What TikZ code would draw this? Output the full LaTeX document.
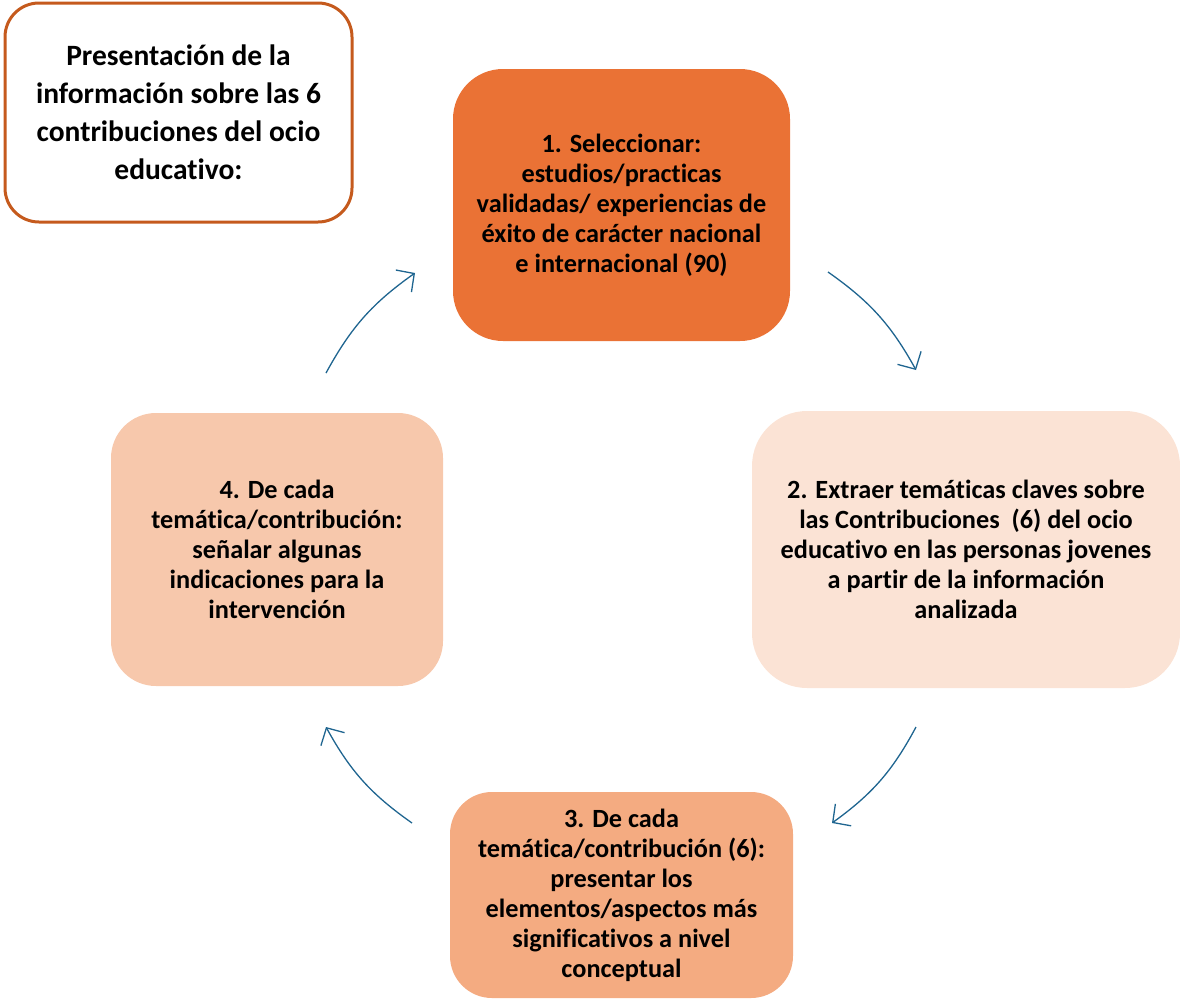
\documentclass[tikz,border=0pt]{standalone}
\usepackage{fontspec}
\setmainfont{Carlito}[Ligatures=CommonOff]
\usetikzlibrary{arrows.meta}
\definecolor{cone}{HTML}{EA7235}
\definecolor{ctwo}{HTML}{FBE3D5}
\definecolor{cthree}{HTML}{F4AB81}
\definecolor{cfour}{HTML}{F7C8AC}
\definecolor{cframe}{HTML}{C55A1D}
\definecolor{carrow}{HTML}{1F6590}
\tikzset{
  stagebox/.style={draw=none, inner sep=0pt, align=center,
    font=\fontsize{26.3}{30}\selectfont\bfseries},
  titlebox/.style={draw=cframe, line width=3pt, fill=white, inner sep=0pt, align=center,
    rounded corners=34pt, font=\fontsize{29.5}{38}\selectfont\bfseries},
  cyc/.style={draw=carrow, line width=1.3pt, bend left=13,
    -{Straight Barb[length=13pt,width=27pt,line width=1.3pt]}}
}
\begin{document}
\begin{tikzpicture}[x=1pt,y=-1pt]
\useasboundingbox (0,0) rectangle (1180,999);
\node[titlebox, minimum width=347pt, minimum height=219pt] (title) at (178.5,112.5)
  {\raisebox{5pt}{\parbox{300pt}{\centering Presentación de la\\ información sobre las 6\\ contribuciones del ocio\\ educativo:}}};
\node[stagebox, fill=cone, minimum width=337pt, minimum height=272pt, rounded corners=50pt] (s1) at (621.5,205)
  {1. Seleccionar:\\ estudios/practicas\\ validadas/ experiencias de\\ éxito de carácter nacional\\ e internacional (90)};
\node[stagebox, fill=ctwo, minimum width=428pt, minimum height=277pt, rounded corners=55pt] (s2) at (966,549.5)
  {2. Extraer temáticas claves sobre\\ las Contribuciones~ (6) del ocio\\ educativo en las personas jovenes\\ a partir de la información\\ analizada};
\node[stagebox, fill=cthree, minimum width=343pt, minimum height=206pt, rounded corners=42pt] (s3) at (621.5,895)
  {3. De cada\\ temática/contribución (6):\\ presentar los\\ elementos/aspectos más\\ significativos a nivel\\ conceptual};
\node[stagebox, fill=cfour, minimum width=332pt, minimum height=273pt, rounded corners=45pt] (s4) at (277,549.5)
  {4. De cada\\ temática/contribución:\\ señalar algunas\\ indicaciones para la\\ intervención};
\coordinate (a1s) at (828,272);
\coordinate (a1e) at (916,370);
\coordinate (a2s) at (916,727);
\coordinate (a2e) at (832,823);
\coordinate (a3s) at (412,823);
\coordinate (a3e) at (326,727);
\coordinate (a4s) at (326,373);
\coordinate (a4e) at (415,273);
\draw[cyc] (a1s) to (a1e);
\draw[cyc] (a2s) to (a2e);
\draw[cyc] (a3s) to (a3e);
\draw[cyc] (a4s) to (a4e);
\end{tikzpicture}
\end{document}
